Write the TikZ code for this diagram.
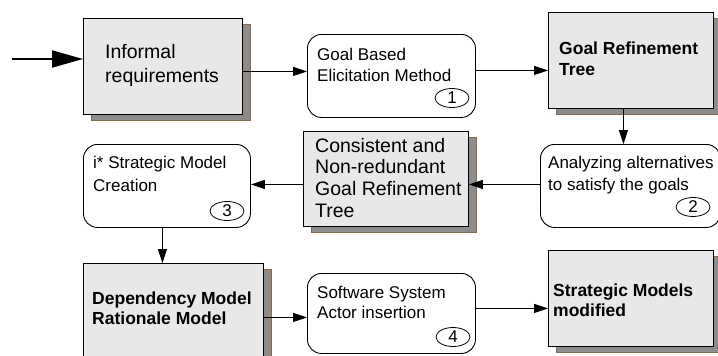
\documentclass[tikz,border=0pt]{standalone}
\usepackage{fontspec}
\setmainfont{Liberation Sans}
\usetikzlibrary{shapes.geometric,shadows,arrows.meta}
\definecolor{boxgray}{HTML}{E8E8E8}
\definecolor{shgray}{HTML}{8C8C8C}
\definecolor{shbrown}{HTML}{8A6A48}
\newcommand{\mylines}[1]{\begin{tabular}[t]{@{}l@{}}#1\end{tabular}}
\begin{document}
\begin{tikzpicture}[x=1pt,y=-1pt,
  graybox/.style={draw=black, line width=0.9pt, fill=boxgray, inner sep=0pt, anchor=north west,
    drop shadow={shadow xshift=7.5pt, shadow yshift=-6pt, fill=shgray, draw=shbrown, line width=0.6pt, opacity=1}},
  roundbox/.style={draw=black, line width=0.9pt, fill=white, rounded corners=14pt, inner sep=0pt, anchor=north west},
  num/.style={ellipse, draw=black, line width=0.8pt, minimum width=34pt, minimum height=19pt, inner sep=0pt, font=\fontsize{17}{17}\selectfont},
  txt/.style={anchor=base west, inner sep=0pt},
  conn/.style={draw, line width=0.9pt, -{Triangle[length=14pt,width=9pt]}},
  bigconn/.style={draw, line width=1.8pt, -{Triangle[length=31pt,width=17pt]}}
]
\useasboundingbox (0,0) rectangle (718,356);
\clip (0,0) rectangle (718,356);

% boxes
\node[graybox, minimum width=159pt, minimum height=96pt] (inf) at (83,18) {};
\node[roundbox, minimum width=168pt, minimum height=83pt] (gbe) at (307,34) {};
\node[graybox, minimum width=165pt, minimum height=96pt] (grt) at (548,12) {};
\node[roundbox, minimum width=180pt, minimum height=83pt] (ana) at (540,144) {};
\node[graybox, minimum width=165pt, minimum height=95pt] (con) at (303,131) {};
\node[roundbox, minimum width=167pt, minimum height=83pt] (ist) at (83,144) {};
\node[graybox, minimum width=180pt, minimum height=110pt] (dep) at (83,263) {};
\node[roundbox, minimum width=168pt, minimum height=80pt] (sw) at (307,273) {};
\node[graybox, minimum width=165pt, minimum height=96pt] (smm) at (548,250) {};

% texts
\node[txt, font=\fontsize{19.5}{24}\selectfont] (tinf) at (105,58) {\mylines{Informal\\requirements}};
\node[txt, font=\fontsize{17}{21}\selectfont] (tgbe) at (317,60) {\mylines{Goal Based\\Elicitation Method}};
\node[txt, font=\fontsize{17.5}{21}\selectfont\bfseries] (tgrt) at (559,54) {\mylines{Goal Refinement\\Tree}};
\node[txt, font=\fontsize{17}{22}\selectfont] (tana) at (548,168) {\mylines{Analyzing alternatives\\to satisfy the goals}};
\node[txt, font=\fontsize{19.5}{21.7}\selectfont] (tcon) at (315,152) {\mylines{Consistent and\\Non-redundant\\Goal Refinement\\Tree}};
\node[txt, font=\fontsize{17}{23}\selectfont] (tist) at (93,168) {\mylines{i* Strategic Model\\Creation}};
\node[txt, font=\fontsize{17.5}{20}\selectfont\bfseries] (tdep) at (92,304) {\mylines{Dependency Model\\Rationale Model}};
\node[txt, font=\fontsize{17}{20}\selectfont] (tsw) at (317,298) {\mylines{Software System\\Actor insertion}};
\node[txt, font=\fontsize{17.5}{20}\selectfont\bfseries] (tsmm) at (553,296) {\mylines{Strategic Models\\modified}};

% step numbers
\node[num] (n1) at (452,98) {1};
\node[num] (n2) at (693,207) {2};
\node[num] (n3) at (227,211) {3};
\node[num] (n4) at (453,337) {4};

% connectors
\coordinate (start) at (12,59);
\draw[bigconn] (start) -- (start -| inf.west);
\draw[conn] ([yshift=-5pt]inf.east) -- ([yshift=-5pt]inf.east -| gbe.west);
\draw[conn] ([yshift=5.5pt]gbe.east) -- ([yshift=5.5pt]gbe.east -| grt.west);
\draw[conn] ([xshift=-7.5pt]grt.south) -- ([xshift=-7.5pt]grt.south |- ana.north);
\draw[conn] ([yshift=1.5pt]ana.west) -- ([yshift=1.5pt]ana.west -| con.east);
\draw[conn] ([yshift=-5.5pt]con.west) -- ([yshift=-5.5pt]con.west -| ist.east);
\draw[conn] ([xshift=-4.5pt]ist.south) -- ([xshift=-4.5pt]ist.south |- dep.north);
\draw[conn] ([yshift=1pt]dep.east) -- ([yshift=1pt]dep.east -| sw.west);
\draw[conn] ([yshift=5pt]sw.east) -- ([yshift=5pt]sw.east -| smm.west);
\end{tikzpicture}
\end{document}
